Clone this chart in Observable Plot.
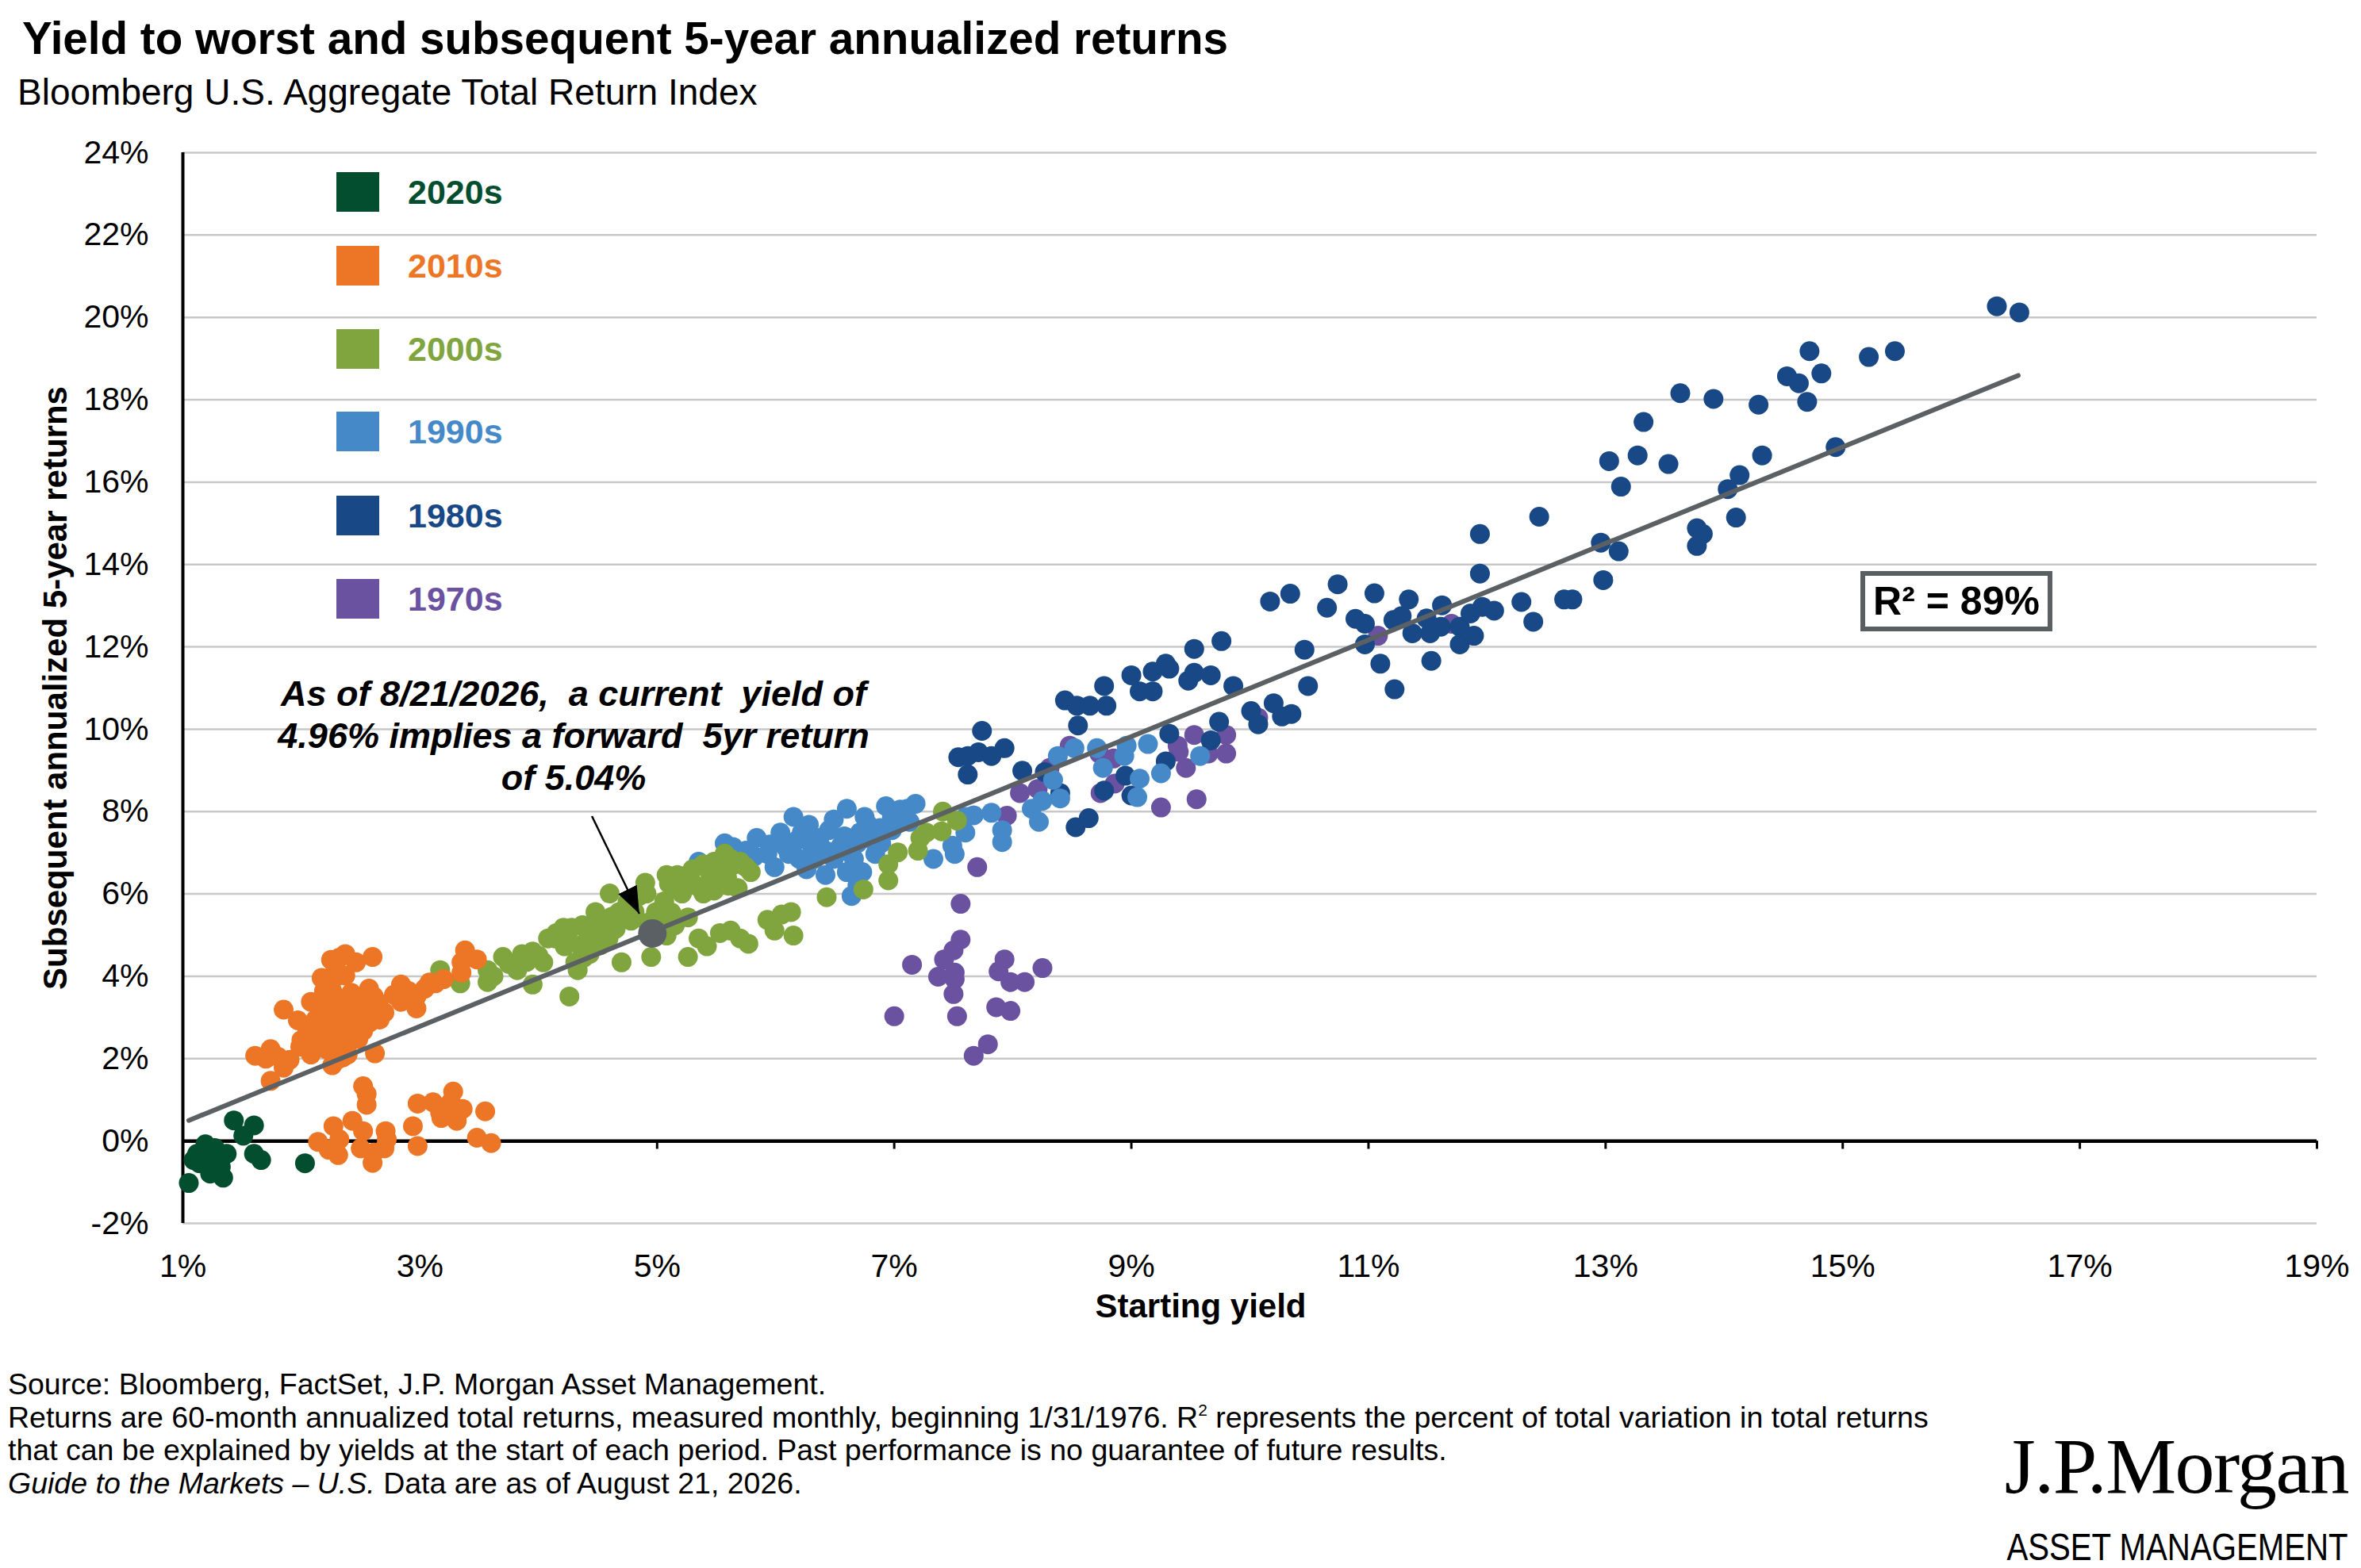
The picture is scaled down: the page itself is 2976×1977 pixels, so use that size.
<!DOCTYPE html>
<html>
<head>
<meta charset="utf-8">
<script src="https://cdn.jsdelivr.net/npm/d3@7"></script>
<script src="https://cdn.jsdelivr.net/npm/@observablehq/plot@0.6"></script>
<style>
  html, body { margin: 0; padding: 0; background: #fff; }
  #page { position: relative; width: 2976px; height: 1977px; overflow: hidden; background: #fff;
          font-family: "Liberation Sans", Arial, sans-serif; color: #000; }
  #title { position: absolute; left: 28px; top: 20px; font-size: 56.6px; line-height: 57px; font-weight: bold; white-space: nowrap; }
  #subtitle { position: absolute; left: 22px; top: 93px; font-size: 46px; line-height: 46px; white-space: nowrap; }
  #chart { position: absolute; left: 0; top: 150px; }
  .leg { position: absolute; left: 424px; height: 50px; display: flex; align-items: center; }
  .leg .sw { width: 54px; height: 50px; margin-right: 36px; }
  .leg .lab { font-size: 43px; font-weight: bold; }
  #ann { position: absolute; left: 223px; top: 848px; width: 1000px; text-align: center; font-size: 45px; line-height: 53px;
         font-weight: bold; font-style: italic; white-space: pre; }
  #r2 { position: absolute; left: 2345px; top: 720px; width: 242px; height: 76px; box-sizing: border-box;
        border: 6px solid #5a5f62; font-size: 50px; font-weight: bold; display: flex; align-items: center; justify-content: center; }
  #notes { position: absolute; left: 10px; top: 1725px; font-size: 37.5px; line-height: 41.5px; white-space: nowrap; }
  #notes sup { font-size: 21px; vertical-align: 15px; line-height: 0; }
  #logo1 { position: absolute; right: 16px; top: 1799px; font-family: "Liberation Serif", "Times New Roman", serif;
           font-size: 100px; line-height: 100px; letter-spacing: -1.5px; white-space: nowrap; }
  #logo2 { position: absolute; right: 16px; top: 1926px; font-size: 49px; line-height: 49px; white-space: nowrap;
           transform: scaleX(0.82); transform-origin: right center; }
</style>
</head>
<body>
<div id="page">
  <div id="title">Yield to worst and subsequent 5-year annualized returns</div>
  <div id="subtitle">Bloomberg U.S. Aggregate Total Return Index</div>
  <div id="chart"></div>
  <div id="legend"></div>
  <div id="ann">As of 8/21/2026,  a current  yield of
4.96% implies a forward  5yr return
of 5.04%</div>
  <div id="r2">R² = 89%</div>
  <div id="notes">
    <div>Source: Bloomberg, FactSet, J.P. Morgan Asset Management.</div>
    <div>Returns are 60-month annualized total returns, measured monthly, beginning 1/31/1976. R<sup>2</sup> represents the percent of total variation in total returns</div>
    <div>that can be explained by yields at the start of each period. Past performance is no guarantee of future results.</div>
    <div><i>Guide to the Markets – U.S.</i> Data are as of August 21, 2026.</div>
  </div>
  <div id="logo1">J.P.Morgan</div>
  <div id="logo2">ASSET MANAGEMENT</div>
</div>
<script>
// ---------- data (starting yield %, subsequent 5-yr annualized return %) ----------
const decades = ["1970s", "1980s", "1990s", "2000s", "2010s", "2020s"];
const decadeColors = ["#6B52A0", "#184886", "#4589C8", "#80A43E", "#EC7625", "#034E2E"];

const s1970 = [
  [7.00,3.03],[7.15,4.28],[7.37,3.99],[7.42,4.41],[7.50,4.63],[7.56,4.89],[7.51,4.09],[7.51,3.93],
  [7.50,3.57],[7.53,3.03],[7.56,5.76],[7.70,6.65],[7.67,2.07],[7.79,2.35],[7.93,4.41],[7.88,4.12],
  [7.98,3.86],[8.10,3.86],[8.25,4.20],[7.86,3.25],[7.98,3.16],[7.95,7.90],[8.06,8.45],[8.21,8.55],
  [8.31,9.06],[8.48,9.60],[8.73,9.41],[8.74,8.45],[8.85,9.29],[8.86,8.68],[9.25,8.10],[9.39,9.60],
  [9.40,9.45],[9.46,9.06],[9.53,9.86],[9.55,8.30],[9.65,9.41],[9.80,9.86],[9.80,9.41],[10.07,10.28],
  [11.08,12.27],[11.70,12.56]
];
const s1980 = [
  [7.54,9.32],[7.62,8.90],[7.62,9.35],[7.71,9.44],[7.74,9.96],[7.82,9.35],[7.93,9.54],[8.08,8.99],
  [8.27,8.96],[8.40,8.45],[8.53,7.62],[8.64,7.84],[8.44,10.70],[8.54,10.57],[8.55,10.09],[8.65,10.57],
  [8.77,11.05],[8.79,10.57],[8.77,8.51],[8.95,8.87],[9.00,11.31],[9.07,10.92],[9.18,10.92],[9.18,11.40],
  [9.29,11.59],[9.32,11.47],[9.29,9.22],[9.32,9.89],[9.48,11.18],[9.53,11.95],[9.53,11.37],[9.67,11.31],
  [9.67,9.73],[9.74,10.18],[9.76,12.14],[9.86,11.05],[9.00,8.39],[10.01,10.44],[10.07,10.12],[10.20,10.63],
  [10.27,10.31],[10.35,10.37],[10.17,13.10],[10.34,13.29],[10.74,13.52],[10.65,12.95],[10.89,12.68],
  [10.46,11.93],[10.49,11.05],[10.97,12.56],[10.97,12.06],[11.05,13.30],[11.10,11.59],[11.21,12.65],
  [11.28,12.75],[11.22,10.97],[11.34,13.15],[11.37,12.33],[11.49,12.69],[11.52,12.33],[11.53,11.66],
  [11.61,12.49],[11.62,13.01],[11.77,12.49],[11.77,12.06],[11.86,12.81],[11.89,12.27],[11.94,13.78],
  [11.94,14.74],[11.96,12.97],[12.06,12.88],[12.29,13.09],[12.39,12.61],[12.44,15.16],[12.65,13.15],
  [12.72,13.15],[12.96,14.53],[12.98,13.62],[13.11,14.32],[13.03,16.51],[13.13,15.89],[13.27,16.65],
  [13.32,17.46],[13.53,16.44],[13.63,18.16],[13.91,18.02],[14.29,17.88],[14.32,16.65],[14.13,16.17],
  [14.03,15.83],[14.10,15.14],[13.77,14.88],[13.82,14.74],[13.77,14.45],[14.53,18.57],[14.63,18.40],
  [14.72,19.18],[14.82,18.64],[14.70,17.95],[14.94,16.85],[15.22,19.04],[15.44,19.18],[16.30,20.27],
  [16.49,20.12]
];
const s1990 = [
  [5.35,6.78],[5.57,7.23],[5.64,7.14],[5.84,7.36],[5.82,6.91],[5.93,6.97],[5.99,6.65],[6.04,7.49],
  [6.15,7.87],[6.11,6.97],[6.20,6.85],[6.22,7.49],[6.28,7.68],[6.33,6.85],[6.37,7.36],[6.42,6.46],
  [6.49,7.81],[6.49,6.85],[6.55,7.17],[6.60,8.07],[6.60,6.53],[6.64,5.95],[6.69,6.21],[6.71,7.49],
  [6.73,6.53],[6.78,7.68],[6.82,7.30],[6.84,6.97],[6.93,8.13],[6.98,7.55],[7.04,7.75],[7.13,7.75],
  [7.18,8.19],[7.33,6.85],[7.49,7.17],[7.60,7.87],[6.55,7.04],[6.69,7.23],[6.75,7.87],[6.89,7.23],
  [7.11,8.07],[7.51,6.97],[7.60,7.49],[7.67,7.91],[7.82,7.97],[7.91,7.55],[7.91,7.26],[8.16,8.07],
  [8.22,7.75],[8.25,8.26],[8.34,8.77],[8.40,8.32],[8.38,9.35],[8.76,9.06],[9.07,8.80],[9.05,8.35],
  [9.25,8.93],[8.94,9.35],[9.58,9.35],[8.52,9.54],[8.71,9.54],[8.96,9.60],[9.14,9.64],
  [5.75,7.05],[5.95,7.20],[6.08,7.15],[6.18,7.30],[6.30,7.20],[6.42,7.05],[6.45,7.55],[6.58,7.40],
  [6.66,6.85],[6.88,7.60],[6.98,7.85],[6.26,6.60],[7.05,8.05]
];
const s2000 = [
  [3.17,4.15],[3.34,3.83],[3.57,4.15],[3.57,3.86],[3.70,4.47],[3.82,4.15],[3.86,4.54],[3.95,4.60],
  [3.95,3.80],[4.04,4.34],[4.08,4.92],[4.15,5.05],[4.22,4.73],[4.26,3.51],[4.28,5.18],[4.31,4.34],
  [4.33,4.15],[4.40,4.60],[4.44,5.18],[4.14,4.92],[4.21,5.18],[4.37,5.24],[4.43,4.54],[4.46,5.18],
  [4.48,5.56],[4.57,5.24],[4.59,4.92],[4.60,6.01],[4.68,5.56],[4.70,4.34],[4.81,5.56],[4.90,6.27],
  [4.91,6.01],[4.92,5.30],[4.95,4.47],[4.99,5.56],[5.06,5.82],[5.08,4.99],[5.08,6.46],[5.15,5.24],
  [5.15,6.14],[5.17,6.46],[5.21,6.01],[5.26,4.47],[5.26,5.43],[5.26,6.46],[5.35,4.92],[5.39,6.72],
  [5.39,6.01],[5.42,4.73],[5.48,6.78],[5.48,6.08],[5.53,5.05],[5.57,6.98],[5.59,6.40],[5.62,5.11],
  [5.66,6.72],[5.68,6.14],[5.70,6.78],[5.70,4.92],[5.77,4.79],[5.79,6.53],[5.93,5.37],[5.99,5.11],
  [6.05,5.50],[6.13,5.56],[6.15,4.99],[6.43,5.92],[6.74,6.11],[6.95,6.33],[6.95,6.72],[7.03,7.01],
  [7.20,7.05],[7.22,7.36],[7.27,7.49],[7.40,7.52],[7.41,8.00],[7.53,7.78],
  [4.16,5.00],[4.25,4.85],[4.35,4.75],[4.42,5.00],[4.50,5.35],[4.55,5.05],[4.62,5.45],[4.65,5.15],
  [4.52,4.75],[4.38,4.45],[5.10,6.25],[5.22,6.30],[5.30,6.60],[5.33,6.20],[5.45,6.45],[5.52,6.60],
  [5.62,6.85],[5.75,6.65],[5.60,6.20],[4.75,5.80],[4.85,5.95],[4.78,5.35],[5.00,5.30],[5.12,5.55],
  [3.75,4.30],[3.62,4.00],[4.00,4.50],[3.90,4.35]
];
const s2010 = [
  [2.52,1.33],[2.55,1.14],[2.55,0.88],[2.43,0.49],[2.27,0.36],[2.32,0.04],[2.14,-0.02],[2.23,-0.21],
  [2.31,-0.34],[2.52,0.24],[2.50,-0.18],[2.60,-0.53],[2.61,-0.28],[2.71,0.24],[2.70,-0.18],[2.72,0.04],
  [2.94,0.36],[2.98,-0.12],[2.98,0.91],[3.11,0.94],[3.17,0.69],[3.28,1.20],[3.24,0.81],[3.31,0.49],
  [3.36,0.78],[3.18,0.56],[3.55,0.72],[3.48,0.08],[3.60,-0.05],[3.26,0.94],
  [1.61,2.07],[1.74,2.23],[1.74,1.46],[1.85,1.78],[1.90,1.97],[1.85,3.19],[1.97,2.93],[1.99,2.29],
  [2.08,2.10],[2.12,2.48],[2.19,2.74],[2.26,1.84],[2.35,2.03],[2.17,3.96],[2.19,3.64],[2.14,3.38],
  [2.28,4.28],[2.37,4.54],[2.37,4.02],[2.46,4.34],[2.60,4.47],[2.26,3.64],[2.35,3.38],[2.39,3.12],
  [2.30,2.87],[2.43,2.80],[2.52,2.67],[2.48,2.48],[2.39,2.35],[2.21,3.00],[2.08,3.38],[2.57,3.70],
  [2.61,3.51],[2.57,3.25],[2.70,3.12],[2.57,2.87],[2.62,2.13],[2.43,3.19],[2.84,3.80],[2.84,3.38],
  [2.97,3.22],[2.97,3.51],[3.04,3.70],[3.13,3.83],[3.20,3.93],[3.38,4.63],[3.35,4.34],[3.48,4.41],
  [3.35,4.09],[2.35,2.67],[2.14,2.74],[2.28,3.25],[2.32,3.06],[2.17,2.61],[2.26,2.48],[2.35,2.55],
  [2.43,2.61],[2.48,3.00],[2.21,2.23],[2.39,2.10],[2.30,1.97],
  [2.20,3.20],[2.25,2.95],[2.30,3.45],[2.33,2.70],[2.40,2.90],[2.45,3.40],[2.50,3.15],[2.28,2.20],
  [2.18,2.45],[2.42,3.60],[2.53,3.45],[2.65,3.35],[2.66,2.95],[2.12,2.95],[2.05,2.65],[2.00,2.45],
  [1.80,2.05],[1.70,2.00],[2.30,4.00],[2.25,4.40],[2.32,4.45],[2.78,3.55],[2.90,3.65],[3.08,3.85]
];
const s2020 = [
  [1.05,-1.02],[1.09,-0.46],[1.12,-0.31],[1.14,-0.54],[1.17,-0.40],[1.19,-0.08],[1.22,-0.17],[1.23,-0.79],
  [1.25,-0.60],[1.27,-0.17],[1.28,-0.45],[1.32,-0.31],[1.32,-0.63],[1.34,-0.89],[1.37,-0.31],[1.43,0.50],
  [1.51,0.13],[1.60,0.38],[1.60,-0.31],[1.66,-0.46],[2.03,-0.54]
];
const seriesValues = [s1970, s1980, s1990, s2000, s2010, s2020];

const fitLine = [{x: 1.05, y: 0.50}, {x: 16.48, y: 18.59}];
const currentPoint = [{x: 4.96, y: 5.04}];
const annotationArrow = [{x1: 4.45, y1: 7.89, x2: 4.85, y2: 5.52}];

const xTicks = [1, 3, 5, 7, 9, 11, 13, 15, 17, 19];
const yTicks = [-2, 0, 2, 4, 6, 8, 10, 12, 14, 16, 18, 20, 22, 24];
const yTitle = ["Subsequent annualized 5-year returns"];
const xTitle = ["Starting yield"];

// legend (HTML overlay inside the plot area)
const legendTops = [217, 310, 415, 519, 625, 730];
const legend = document.getElementById("legend");
decades.slice().reverse().forEach((d, i) => {
  const c = decadeColors[decades.indexOf(d)];
  const row = document.createElement("div");
  row.className = "leg";
  row.style.top = legendTops[i] + "px";
  row.innerHTML = `<div class="sw" style="background:${c}"></div><div class="lab" style="color:${c}">${d}</div>`;
  legend.appendChild(row);
});

const dotMarks = seriesValues.map((arr, i) =>
  Plot.dot(arr, {x: d => d[0], y: d => d[1], r: 12.5, fill: decadeColors[i], stroke: "none"})
);

const chart = Plot.plot({
  width: 2976,
  height: 1560,
  marginLeft: 230,
  marginRight: 56,
  marginTop: 42,
  marginBottom: 168,
  style: {fontFamily: "'Liberation Sans', Arial, sans-serif", fontSize: "41px", color: "#000", background: "transparent", overflow: "visible"},
  x: {domain: [1, 19], ticks: xTicks, tickFormat: d => d + "%", tickSize: 0, tickPadding: 38, label: null},
  y: {domain: [-2, 24], ticks: yTicks, tickFormat: d => d + "%", tickSize: 0, tickPadding: 43, label: null},
  marks: [
    Plot.ruleY(yTicks.filter(d => d !== 0), {stroke: "#c8c8c8", strokeWidth: 2.5}),
    Plot.ruleY([0], {stroke: "#000", strokeWidth: 4.5}),
    Plot.ruleX(xTicks, {y1: 0, y2: -0.2, stroke: "#000", strokeWidth: 3}),
    Plot.ruleX([1], {stroke: "#000", strokeWidth: 4}),
    ...dotMarks,
    Plot.line(fitLine, {x: "x", y: "y", stroke: "#5b6064", strokeWidth: 6, strokeLinecap: "round"}),
    Plot.link(annotationArrow, {x1: "x1", y1: "y1", x2: "x2", y2: "y2", stroke: "#000", strokeWidth: 2.5, className: "annot-arrow"}),
    Plot.dot(currentPoint, {x: "x", y: "y", r: 18, fill: "#5b6064"}),
    Plot.text(yTitle, {frameAnchor: "left", text: d => d, rotate: -90, dx: -160, textAnchor: "middle", lineAnchor: "middle", fontWeight: "bold", fontSize: 42}),
    Plot.text(xTitle, {frameAnchor: "bottom", text: d => d, dx: -62, dy: 105, textAnchor: "middle", lineAnchor: "middle", fontWeight: "bold", fontSize: 42})
  ]
});
document.getElementById("chart").appendChild(chart);

// filled triangular arrowhead for the annotation pointer
const svg = d3.select(chart);
const defs = svg.insert("defs", ":first-child");
defs.append("marker")
  .attr("id", "tri-head")
  .attr("markerUnits", "userSpaceOnUse")
  .attr("viewBox", "0 -14 36 28")
  .attr("refX", 34).attr("refY", 0)
  .attr("markerWidth", 36).attr("markerHeight", 28)
  .attr("orient", "auto")
  .append("path").attr("d", "M0,-13L34,0L0,13Z").attr("fill", "#000");
svg.selectAll(".annot-arrow path").attr("marker-end", "url(#tri-head)");
</script>
</body>
</html>
